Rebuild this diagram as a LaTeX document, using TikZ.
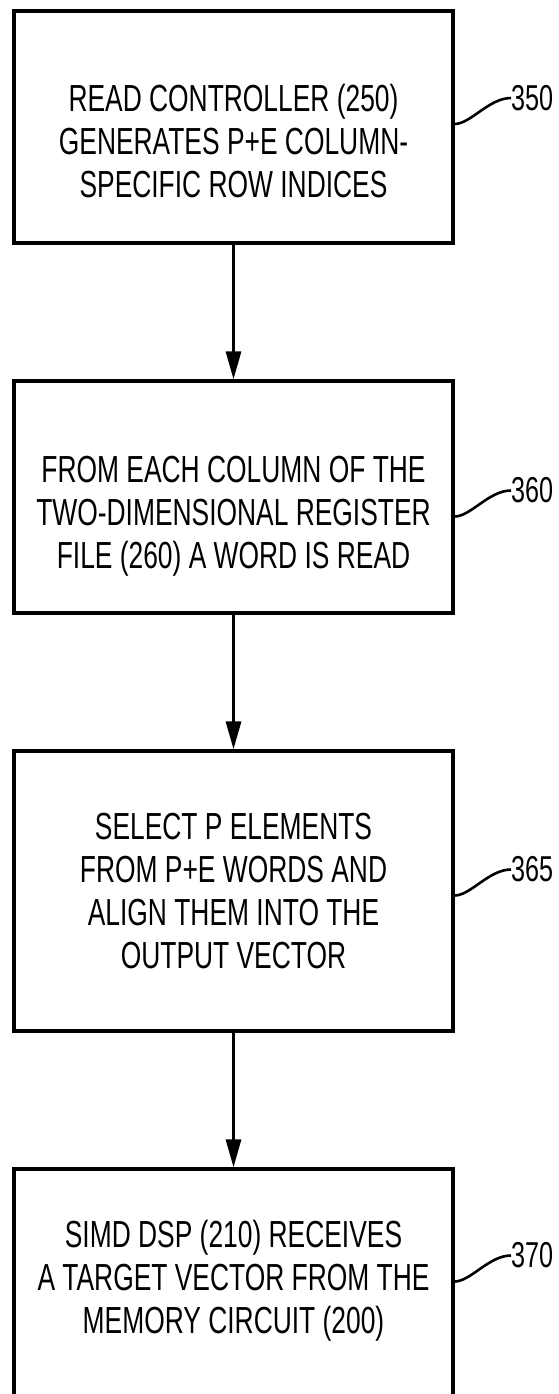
\documentclass[tikz,border=0pt]{standalone}
\usepackage{fontspec}
\setmainfont{Liberation Sans}[FakeStretch=0.70]
\usetikzlibrary{arrows.meta}
\begin{document}
\begin{tikzpicture}[x=1pt,y=-1pt,
  box/.style={draw, line width=3.2pt, minimum width=439pt, minimum height=232pt, inner sep=0pt},
  txt/.style={align=center, inner sep=0pt, font=\fontsize{37.7}{43}\selectfont},
  lbl/.style={anchor=west, inner sep=0pt, font=\fontsize{36}{43}\selectfont},
  flow/.style={line width=3pt, -{Triangle[width=15pt,length=28pt]}},
  leader/.style={line width=2.6pt}]
\useasboundingbox (0,0) rectangle (558,1394);
\clip (0,0) rectangle (558,1394);
% boxes
\node[box] (b1) at (233.5,127) {};
\node[box] (b2) at (233.5,497) {};
\node[box, minimum height=280pt] (b3) at (233.5,891) {};
\node[box] (b4) at (233.5,1285) {};
% texts
\node[txt] (t1) at (233.5,141) {READ CONTROLLER (250)\\GENERATES P+E COLUMN-\\SPECIFIC ROW INDICES};
\node[txt] (t2) at (233.5,516) {FROM EACH COLUMN OF THE\\TWO-DIMENSIONAL REGISTER\\FILE (260) A WORD IS READ};
\node[txt] (t3) at (233.5,891) {SELECT P ELEMENTS\\FROM P+E WORDS AND\\ALIGN THEM INTO THE\\OUTPUT VECTOR};
\node[txt] (t4) at (233.5,1281) {SIMD DSP (210) RECEIVES\\A TARGET VECTOR FROM THE\\MEMORY CIRCUIT (200)};
% flow arrows
\draw[flow] (b1) -- (b2);
\draw[flow] (b2) -- (b3);
\draw[flow] (b3) -- (b4);
% reference labels
\node[lbl] (l1) at (511,98) {350};
\node[lbl] (l2) at (511,490.5) {360};
\node[lbl] (l3) at (511,869.5) {365};
\node[lbl] (l4) at (511,1255.5) {370};
\coordinate (s1) at (455,124);
\coordinate (s2) at (455,516.5);
\coordinate (s3) at (455,895.5);
\coordinate (s4) at (455,1281.5);
\draw[leader] (b1.east |- s1) .. controls +(16,0) and +(-22,0) .. (l1.west);
\draw[leader] (b2.east |- s2) .. controls +(16,0) and +(-22,0) .. (l2.west);
\draw[leader] (b3.east |- s3) .. controls +(16,0) and +(-22,0) .. (l3.west);
\draw[leader] (b4.east |- s4) .. controls +(16,0) and +(-22,0) .. (l4.west);
\end{tikzpicture}
\end{document}
